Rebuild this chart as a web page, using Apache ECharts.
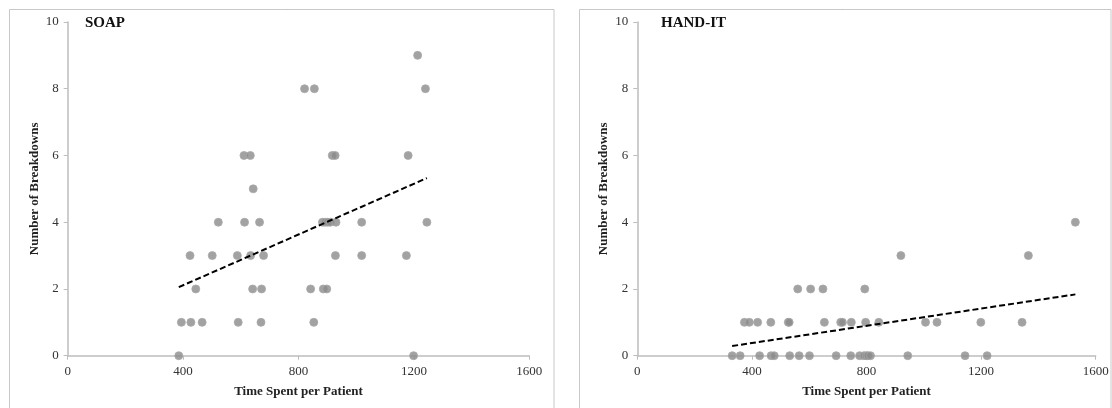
<!DOCTYPE html>
<html>
<head>
<meta charset="utf-8">
<script src="https://cdn.jsdelivr.net/npm/echarts@6/dist/echarts.min.js"></script>
<style>
html,body{margin:0;padding:0;background:#fff;}
#c{width:1112px;height:408px;}
</style>
</head>
<body>
<div id="c"></div>
<script>
// ---- Data ----
const panelTitles = ['SOAP', 'HAND-IT'];
const xTicks = [0, 400, 800, 1200, 1600];
const yTicks = [0, 2, 4, 6, 8, 10];

// SOAP: time spent per patient (x) and number of breakdowns (y)
const soapTime = [385, 1199,
  394, 427, 466, 591, 670, 853,
  444, 641, 672, 842, 886, 898,
  424, 501, 588, 634, 679, 928, 1019, 1174,
  522, 613, 665, 883, 892, 901, 910, 930, 1019, 1245,
  643,
  611, 633, 917, 927, 1180,
  821, 855, 1240,
  1213];
const soapBreakdowns = [0, 0,
  1, 1, 1, 1, 1, 1,
  2, 2, 2, 2, 2, 2,
  3, 3, 3, 3, 3, 3, 3, 3,
  4, 4, 4, 4, 4, 4, 4, 4, 4, 4,
  5,
  6, 6, 6, 6, 6,
  8, 8, 8,
  9];

// HAND-IT
const handitTime = [331, 359, 427, 467, 478, 532, 565, 601, 694, 745, 776, 791, 799, 805, 814, 944, 1144, 1221,
  374, 391, 420, 466, 527, 530, 653, 710, 716, 747, 797, 843, 1006, 1046, 1199, 1343,
  560, 605, 648, 794,
  920, 1365,
  1529];
const handitBreakdowns = [0, 0, 0, 0, 0, 0, 0, 0, 0, 0, 0, 0, 0, 0, 0, 0, 0, 0,
  1, 1, 1, 1, 1, 1, 1, 1, 1, 1, 1, 1, 1, 1, 1, 1,
  2, 2, 2, 2,
  3, 3,
  4];

// ---- Helpers ----
function pairs(xs, ys) { return xs.map((x, i) => [x, ys[i]]); }
function linearTrend(xs, ys) {
  const n = xs.length;
  const mx = xs.reduce((a, b) => a + b, 0) / n;
  const my = ys.reduce((a, b) => a + b, 0) / n;
  let sxy = 0, sxx = 0;
  for (let i = 0; i < n; i++) { sxy += (xs[i] - mx) * (ys[i] - my); sxx += (xs[i] - mx) * (xs[i] - mx); }
  const b = sxy / sxx, a = my - b * mx;
  const x0 = Math.min(...xs), x1 = Math.max(...xs);
  return [[x0, a + b * x0], [x1, a + b * x1]];
}

const FONT = '"Liberation Serif", "DejaVu Serif", serif';
const AXIS_COLOR = '#bdbdbd';

function xAxis(gridIndex) {
  return {
    type: 'value', gridIndex, min: xTicks[0], max: xTicks[xTicks.length - 1], interval: xTicks[1] - xTicks[0],
    name: 'Time Spent per Patient', nameLocation: 'middle', nameGap: 29,
    nameTextStyle: { fontFamily: FONT, fontWeight: 'bold', fontSize: 13, color: '#222' },
    axisLine: { show: true, onZero: false, lineStyle: { color: AXIS_COLOR, width: 1.5 } },
    axisTick: { show: true, length: 4, lineStyle: { color: AXIS_COLOR } },
    axisLabel: { fontFamily: FONT, fontSize: 13, color: '#333', margin: 9, formatter: v => String(v) },
    splitLine: { show: false }
  };
}
function yAxis(gridIndex) {
  return {
    type: 'value', gridIndex, min: yTicks[0], max: yTicks[yTicks.length - 1], interval: yTicks[1] - yTicks[0],
    name: 'Number of Breakdowns', nameLocation: 'middle', nameGap: 27,
    nameTextStyle: { fontFamily: FONT, fontWeight: 'bold', fontSize: 13, color: '#222' },
    axisLine: { show: true, lineStyle: { color: AXIS_COLOR, width: 1.5 } },
    axisTick: { show: true, length: 4, lineStyle: { color: AXIS_COLOR } },
    axisLabel: { fontFamily: FONT, fontSize: 13, color: '#333', margin: 9, formatter: v => String(v) },
    splitLine: { show: false }
  };
}
function scatter(i, data) {
  return {
    type: 'scatter', xAxisIndex: i, yAxisIndex: i, data, symbolSize: 8,
    itemStyle: { color: '#8b8b8b', borderColor: '#a9a9a9', borderWidth: 1 },
    z: 2, silent: true
  };
}
function trend(i, data) {
  return {
    type: 'line', xAxisIndex: i, yAxisIndex: i, data, showSymbol: false, symbol: 'none',
    lineStyle: { color: '#000', width: 2, type: [6, 3] }, z: 3, silent: true
  };
}

const chart = echarts.init(document.getElementById('c'), null, { renderer: 'canvas' });
chart.setOption({
  animation: false,
  backgroundColor: '#fff',
  grid: [
    { left: 67.7, right: 582.7, top: 22, bottom: 52.3 },
    { left: 637.3, right: 16.3, top: 22, bottom: 52.3 }
  ],
  xAxis: [xAxis(0), xAxis(1)],
  yAxis: [yAxis(0), yAxis(1)],
  title: [
    { text: panelTitles[0], left: 80, top: 11, textStyle: { fontFamily: FONT, fontWeight: 'bold', fontSize: 15, color: '#111' } },
    { text: panelTitles[1], left: 656, top: 11, textStyle: { fontFamily: FONT, fontWeight: 'bold', fontSize: 15, color: '#111' } }
  ],
  graphic: [
    { type: 'rect', shape: { x: 9.5, y: 9.5, width: 544.5, height: 420 }, style: { fill: 'none', stroke: '#c8c8c8', lineWidth: 1 }, silent: true },
    { type: 'rect', shape: { x: 579.5, y: 9.5, width: 531.5, height: 420 }, style: { fill: 'none', stroke: '#c8c8c8', lineWidth: 1 }, silent: true }
  ],
  series: [
    scatter(0, pairs(soapTime, soapBreakdowns)),
    trend(0, linearTrend(soapTime, soapBreakdowns)),
    scatter(1, pairs(handitTime, handitBreakdowns)),
    trend(1, linearTrend(handitTime, handitBreakdowns))
  ]
});
</script>
</body>
</html>
